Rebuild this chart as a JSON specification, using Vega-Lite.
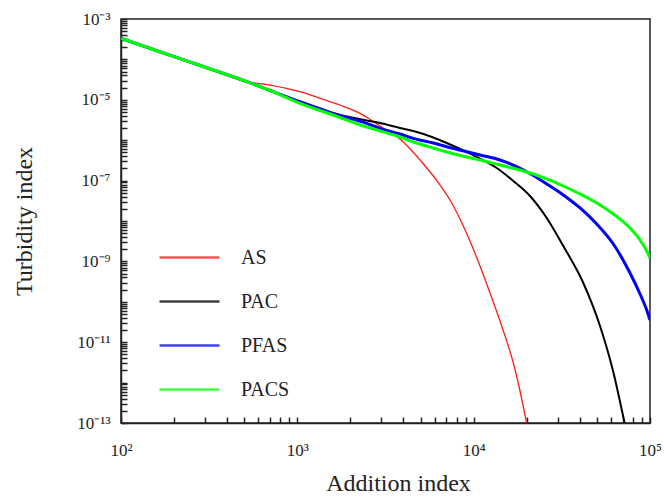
{
  "$schema": "https://vega.github.io/schema/vega-lite/v6.json",
  "width": 529,
  "height": 404,
  "autosize": {"type": "none"},
  "padding": {"left": 121, "top": 19, "right": 14, "bottom": 74},
  "background": "white",
  "config": {
    "view": {"stroke": "#222", "strokeWidth": 1.5},
    "font": "Liberation Serif",
    "axis": {
      "labelFont": "Liberation Serif",
      "titleFont": "Liberation Serif",
      "labelColor": "#222",
      "titleColor": "#222",
      "titleFontWeight": "normal",
      "grid": false
    },
    "legend": {
      "labelFont": "Liberation Serif",
      "labelFontSize": 20,
      "labelColor": "#222",
      "symbolType": "stroke",
      "symbolSize": 3600,
      "symbolStrokeWidth": 2.5,
      "symbolOpacity": 0.75,
      "labelOffset": 20,
      "rowPadding": 2,
      "padding": 0
    }
  },
  "data": {
    "values": [
      {"s": "AS", "x": 100, "y": 3.33e-4},
      {"s": "AS", "x": 166, "y": 1.55e-4},
      {"s": "AS", "x": 281, "y": 7.06e-5},
      {"s": "AS", "x": 518, "y": 2.81e-5},
      {"s": "AS", "x": 700, "y": 2.32e-5},
      {"s": "AS", "x": 1035, "y": 1.59e-5},
      {"s": "AS", "x": 1345, "y": 1.09e-5},
      {"s": "AS", "x": 1746, "y": 7.43e-6},
      {"s": "AS", "x": 2267, "y": 4.63e-6},
      {"s": "AS", "x": 2583, "y": 3.3e-6},
      {"s": "AS", "x": 2943, "y": 2.25e-6},
      {"s": "AS", "x": 3821, "y": 1.07e-6},
      {"s": "AS", "x": 4963, "y": 3.24e-7},
      {"s": "AS", "x": 6446, "y": 7.78e-8},
      {"s": "AS", "x": 7341, "y": 3.31e-8},
      {"s": "AS", "x": 8366, "y": 1.12e-8},
      {"s": "AS", "x": 9530, "y": 3.2e-9},
      {"s": "AS", "x": 10864, "y": 7.69e-10},
      {"s": "AS", "x": 12380, "y": 1.65e-10},
      {"s": "AS", "x": 14105, "y": 3.35e-11},
      {"s": "AS", "x": 15395, "y": 1.07e-11},
      {"s": "AS", "x": 16790, "y": 3.06e-12},
      {"s": "AS", "x": 18320, "y": 6.19e-13},
      {"s": "AS", "x": 19990, "y": 1e-13},
      {"s": "AS", "x": 20870, "y": 4.5e-14},
      {"s": "PAC", "x": 100, "y": 3.33e-4},
      {"s": "PAC", "x": 166, "y": 1.55e-4},
      {"s": "PAC", "x": 281, "y": 7.06e-5},
      {"s": "PAC", "x": 518, "y": 2.81e-5},
      {"s": "PAC", "x": 700, "y": 1.7e-5},
      {"s": "PAC", "x": 1035, "y": 8.97e-6},
      {"s": "PAC", "x": 1594, "y": 4.63e-6},
      {"s": "PAC", "x": 2474, "y": 3.07e-6},
      {"s": "PAC", "x": 2943, "y": 2.67e-6},
      {"s": "PAC", "x": 3821, "y": 2.0e-6},
      {"s": "PAC", "x": 4547, "y": 1.69e-6},
      {"s": "PAC", "x": 5903, "y": 1.17e-6},
      {"s": "PAC", "x": 7034, "y": 8.53e-7},
      {"s": "PAC", "x": 9131, "y": 5.1e-7},
      {"s": "PAC", "x": 10864, "y": 3.52e-7},
      {"s": "PAC", "x": 13510, "y": 2.05e-7},
      {"s": "PAC", "x": 16790, "y": 9.77e-8},
      {"s": "PAC", "x": 20870, "y": 4.16e-8},
      {"s": "PAC", "x": 25960, "y": 1.19e-8},
      {"s": "PAC", "x": 32230, "y": 2.41e-9},
      {"s": "PAC", "x": 41860, "y": 2.92e-10},
      {"s": "PAC", "x": 52070, "y": 2.52e-11},
      {"s": "PAC", "x": 61940, "y": 1.83e-12},
      {"s": "PAC", "x": 70580, "y": 1.41e-13},
      {"s": "PAC", "x": 77000, "y": 2.5e-14},
      {"s": "PFAS", "x": 100, "y": 3.33e-4},
      {"s": "PFAS", "x": 166, "y": 1.55e-4},
      {"s": "PFAS", "x": 281, "y": 7.06e-5},
      {"s": "PFAS", "x": 518, "y": 2.81e-5},
      {"s": "PFAS", "x": 700, "y": 1.7e-5},
      {"s": "PFAS", "x": 1035, "y": 8.97e-6},
      {"s": "PFAS", "x": 1594, "y": 4.63e-6},
      {"s": "PFAS", "x": 2474, "y": 2.62e-6},
      {"s": "PFAS", "x": 2943, "y": 1.97e-6},
      {"s": "PFAS", "x": 3821, "y": 1.42e-6},
      {"s": "PFAS", "x": 4547, "y": 1.11e-6},
      {"s": "PFAS", "x": 5903, "y": 8.53e-7},
      {"s": "PFAS", "x": 7034, "y": 6.9e-7},
      {"s": "PFAS", "x": 9131, "y": 5.19e-7},
      {"s": "PFAS", "x": 10864, "y": 4.3e-7},
      {"s": "PFAS", "x": 14105, "y": 3.24e-7},
      {"s": "PFAS", "x": 20870, "y": 1.5e-7},
      {"s": "PFAS", "x": 25960, "y": 8.24e-8},
      {"s": "PFAS", "x": 32230, "y": 4.4e-8},
      {"s": "PFAS", "x": 40100, "y": 2.1e-8},
      {"s": "PFAS", "x": 49880, "y": 8.43e-9},
      {"s": "PFAS", "x": 61940, "y": 2.7e-9},
      {"s": "PFAS", "x": 77000, "y": 5.16e-10},
      {"s": "PFAS", "x": 87800, "y": 1.56e-10},
      {"s": "PFAS", "x": 95800, "y": 6.27e-11},
      {"s": "PFAS", "x": 100000, "y": 3.55e-11},
      {"s": "PACS", "x": 100, "y": 3.33e-4},
      {"s": "PACS", "x": 166, "y": 1.55e-4},
      {"s": "PACS", "x": 281, "y": 7.06e-5},
      {"s": "PACS", "x": 518, "y": 2.81e-5},
      {"s": "PACS", "x": 700, "y": 1.7e-5},
      {"s": "PACS", "x": 1035, "y": 8.19e-6},
      {"s": "PACS", "x": 1594, "y": 4.21e-6},
      {"s": "PACS", "x": 2474, "y": 2.12e-6},
      {"s": "PACS", "x": 2943, "y": 1.69e-6},
      {"s": "PACS", "x": 3821, "y": 1.2e-6},
      {"s": "PACS", "x": 4547, "y": 9.02e-7},
      {"s": "PACS", "x": 5903, "y": 6.41e-7},
      {"s": "PACS", "x": 7034, "y": 5.1e-7},
      {"s": "PACS", "x": 9131, "y": 3.84e-7},
      {"s": "PACS", "x": 10864, "y": 3.24e-7},
      {"s": "PACS", "x": 14105, "y": 2.43e-7},
      {"s": "PACS", "x": 16790, "y": 2.02e-7},
      {"s": "PACS", "x": 20870, "y": 1.54e-7},
      {"s": "PACS", "x": 25960, "y": 1.1e-7},
      {"s": "PACS", "x": 32230, "y": 7.35e-8},
      {"s": "PACS", "x": 40100, "y": 4.66e-8},
      {"s": "PACS", "x": 49880, "y": 2.79e-8},
      {"s": "PACS", "x": 61940, "y": 1.49e-8},
      {"s": "PACS", "x": 77000, "y": 6.71e-9},
      {"s": "PACS", "x": 87800, "y": 3.39e-9},
      {"s": "PACS", "x": 95800, "y": 1.81e-9},
      {"s": "PACS", "x": 100000, "y": 1.21e-9}
    ]
  },
  "mark": {"type": "line", "clip": true, "interpolate": "monotone"},
  "encoding": {
    "x": {
      "field": "x", "type": "quantitative",
      "scale": {"type": "log", "domain": [100, 100000], "nice": false},
      "axis": {
        "orient": "bottom",
        "values": [100,200,300,400,500,600,700,800,900,1000,2000,3000,4000,5000,6000,7000,8000,9000,10000,20000,30000,40000,50000,60000,70000,80000,90000,100000],
        "ticks": true,
        "tickColor": "#222",
        "tickWidth": 1.5,
        "tickSize": -6,
        "domain": true,
        "domainColor": "#222",
        "domainWidth": 1.5,
        "labelExpr": "datum.value == 100 ? '10²' : datum.value == 1000 ? '10³' : datum.value == 10000 ? '10⁴' : datum.value == 100000 ? '10⁵' : ''",
        "labelFontSize": 17,
        "labelPadding": 25,
        "labelFlush": false,
        "labelOverlap": false,
        "title": "Addition index",
        "titleFontSize": 24,
        "titleX": 277,
        "titleY": 67,
        "titleBaseline": "alphabetic",
        "titleAlign": "center"
      }
    },
    "y": {
      "field": "y", "type": "quantitative",
      "scale": {"type": "log", "domain": [1e-13, 1e-3], "nice": false},
      "axis": {
        "orient": "left",
        "values": [1e-13,2e-13,3e-13,4e-13,5e-13,6e-13,7e-13,8e-13,9e-13,1e-12,2e-12,3e-12,4e-12,5e-12,6e-12,7e-12,8e-12,9e-12,1e-11,2e-11,3e-11,4e-11,5e-11,6e-11,7e-11,8e-11,9e-11,1e-10,2e-10,3e-10,4e-10,5e-10,6e-10,7e-10,8e-10,9e-10,1e-9,2e-9,3e-9,4e-9,5e-9,6e-9,7e-9,8e-9,9e-9,1e-8,2e-8,3e-8,4e-8,5e-8,6e-8,7e-8,8e-8,9e-8,1e-7,2e-7,3e-7,4e-7,5e-7,6e-7,7e-7,8e-7,9e-7,1e-6,2e-6,3e-6,4e-6,5e-6,6e-6,7e-6,8e-6,9e-6,1e-5,2e-5,3e-5,4e-5,5e-5,6e-5,7e-5,8e-5,9e-5,1e-4,2e-4,3e-4,4e-4,5e-4,6e-4,7e-4,8e-4,9e-4,1e-3],
        "ticks": true,
        "tickColor": "#222",
        "tickWidth": 1.5,
        "tickSize": -6,
        "domain": true,
        "domainColor": "#222",
        "domainWidth": 1.5,
        "labelExpr": "datum.value == 1e-3 ? '10⁻³' : datum.value == 1e-5 ? '10⁻⁵' : datum.value == 1e-7 ? '10⁻⁷' : datum.value == 1e-9 ? '10⁻⁹' : datum.value == 1e-11 ? '10⁻¹¹' : datum.value == 1e-13 ? '10⁻¹³' : ''",
        "labelFontSize": 17,
        "labelPadding": 17,
        "labelOverlap": false,
        "labelFlush": false,
        "title": "Turbidity index",
        "titleFontSize": 24,
        "titleX": -90,
        "titleY": 202,
        "titleAngle": -90,
        "titleBaseline": "alphabetic",
        "titleAlign": "center"
      }
    },
    "color": {
      "field": "s", "type": "nominal",
      "scale": {"domain": ["AS", "PAC", "PFAS", "PACS"], "range": ["#ff1a1a", "#000000", "#0000ff", "#00ff00"]},
      "legend": {
        "title": null, "orient": "none", "legendX": 37, "legendY": 207, "direction": "vertical",
        "encode": {"symbols": {"update": {"strokeWidth": {"value": 2.5}, "size": {"value": 3600}}}}
      }
    },
    "strokeWidth": {
      "condition": [
        {"test": "datum.s == 'AS'", "value": 1.3},
        {"test": "datum.s == 'PAC'", "value": 2}
      ],
      "value": 3
    }
  }
}
